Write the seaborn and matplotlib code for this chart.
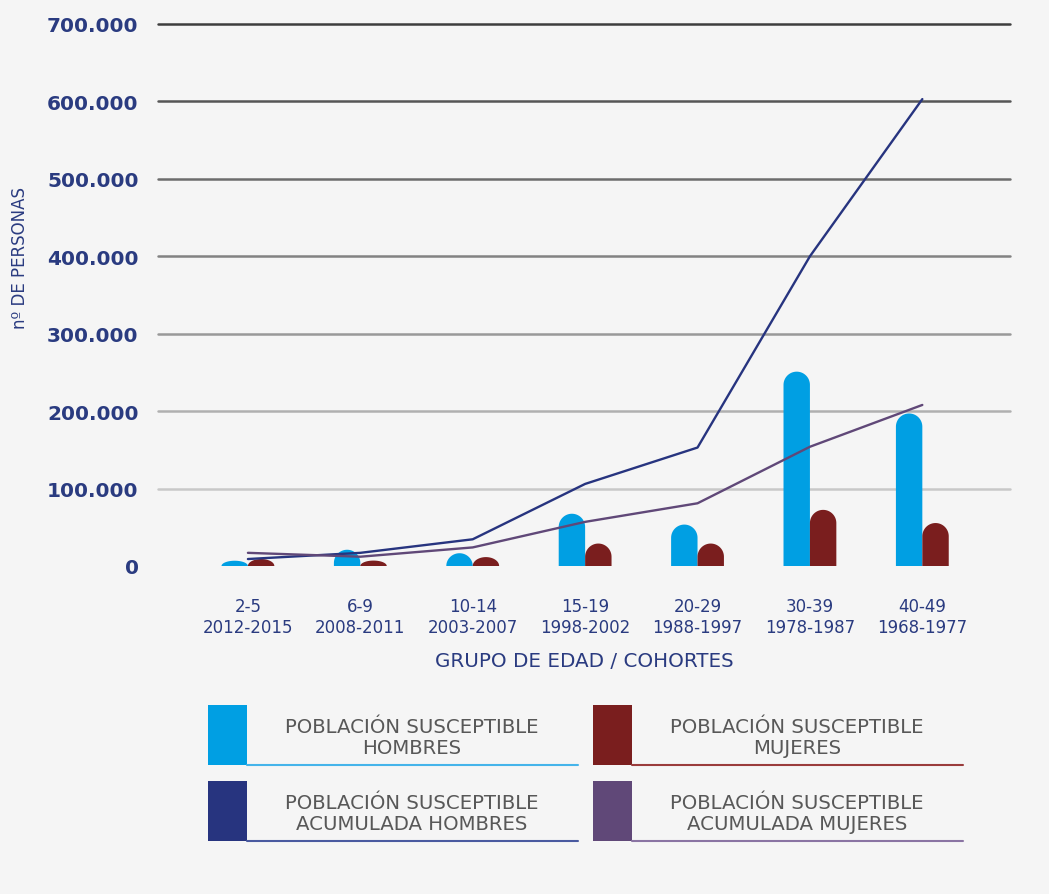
import numpy as np
import pandas as pd
import matplotlib
matplotlib.use("Agg")
import matplotlib.pyplot as plt
from matplotlib.path import Path
from matplotlib.patches import PathPatch, Rectangle
from matplotlib.ticker import FuncFormatter
import seaborn as sns

# --- data -------------------------------------------------------------
grupos = ["2-5\n2012-2015", "6-9\n2008-2011", "10-14\n2003-2007", "15-19\n1998-2002",
          "20-29\n1988-1997", "30-39\n1978-1987", "40-49\n1968-1977"]
susceptible_hombres = [6800, 21000, 16500, 67500, 53500, 251000, 197000]
susceptible_mujeres = [9000, 7000, 11500, 29000, 29000, 72500, 55500]
acumulada_hombres = [9000, 17000, 34500, 106000, 153000, 400000, 603000]
acumulada_mujeres = [17000, 12000, 24000, 57000, 81000, 154000, 208000]
y_ticks = [0, 100000, 200000, 300000, 400000, 500000, 600000, 700000]

serie_h = "POBLACIÓN SUSCEPTIBLE\nHOMBRES"
serie_m = "POBLACIÓN SUSCEPTIBLE\nMUJERES"
serie_ah = "POBLACIÓN SUSCEPTIBLE\nACUMULADA HOMBRES"
serie_am = "POBLACIÓN SUSCEPTIBLE\nACUMULADA MUJERES"

# --- styling ----------------------------------------------------------
BG = "#f5f5f5"
NAVY_TXT = "#2a3b80"
C_H = "#009fe3"
C_M = "#7a1e1e"
C_AH = "#27347f"
C_AM = "#604878"
grid_cols = ["#c8c8c8", "#b0b0b0", "#999999", "#828282", "#6c6c6c", "#565656", "#3e3e3e"]

sns.set_theme(style="white")
plt.rcParams["font.family"] = ["DejaVu Sans"]

fig = plt.figure(figsize=(10.49, 8.95), dpi=100, facecolor=BG)
ax = fig.add_axes([158 / 1049, 1 - 567 / 895, 852 / 1049, 542 / 895])
ax.set_facecolor(BG)

bars = pd.DataFrame({
    "grupo": grupos * 2,
    "valor": susceptible_hombres + susceptible_mujeres,
    "serie": [serie_h] * len(grupos) + [serie_m] * len(grupos),
})
sns.barplot(data=bars, x="grupo", y="valor", hue="serie", order=grupos,
            hue_order=[serie_h, serie_m], palette=[C_H, C_M], width=0.47,
            gap=0, saturation=1, legend=False, ax=ax, linewidth=0)

pos = np.arange(len(grupos))
sns.lineplot(x=pos, y=acumulada_hombres, color=C_AH, linewidth=1.7, ax=ax)
sns.lineplot(x=pos, y=acumulada_mujeres, color=C_AM, linewidth=1.7, ax=ax)

ax.set_xlim(-0.80, 6.78)
ax.set_ylim(0, 700000)
for s in ax.spines.values():
    s.set_visible(False)

# graded horizontal gridlines
for v, c in zip(y_ticks[1:], grid_cols):
    ax.axhline(v, color=c, linewidth=1.8, zorder=0.5, clip_on=False)

# bars with rounded tops
fig.canvas.draw()
inv = ax.transData.inverted()
for p in list(ax.patches):
    if not isinstance(p, Rectangle):
        continue
    x0, w, h = p.get_x(), p.get_width(), p.get_height()
    if h <= 0:
        continue
    (px0, py0), (px1, py1) = ax.transData.transform([(x0, 0), (x0 + w, 0)])
    r_px = (px1 - px0) / 2
    ry = inv.transform((0, py0 + r_px))[1] - inv.transform((0, py0))[1]
    ry = min(ry, h)
    th = np.linspace(np.pi, 0, 40)
    cx = x0 + w / 2
    arc = np.column_stack([cx + (w / 2) * np.cos(th), (h - ry) + ry * np.sin(th)])
    verts = np.vstack([[x0, 0], [x0, h - ry], arc, [x0 + w, 0], [x0, 0]])
    codes = [Path.MOVETO] + [Path.LINETO] * (len(verts) - 2) + [Path.CLOSEPOLY]
    ax.add_patch(PathPatch(Path(verts, codes), facecolor=p.get_facecolor(),
                           edgecolor="none", zorder=1.5))
    p.remove()
for ln in ax.lines:
    if ln.get_color() in (C_AH, C_AM):
        ln.set_zorder(3)

# axes text
ax.set_yticks(y_ticks)
ax.yaxis.set_major_formatter(FuncFormatter(lambda v, _: f"{int(v):,}".replace(",", ".")))
ax.tick_params(axis="y", length=0, pad=14, labelsize=14.5, labelcolor=NAVY_TXT)
for t in ax.get_yticklabels():
    t.set_fontweight("bold")
ax.tick_params(axis="x", length=0, pad=22, labelsize=12, labelcolor=NAVY_TXT)
for t in ax.get_xticklabels():
    t.set_linespacing(1.25)
ax.set_xlabel("GRUPO DE EDAD / COHORTES", fontsize=14.3, color=NAVY_TXT, labelpad=11)
ax.set_ylabel("")
fig.text(20 / 1049, 1 - 258 / 895, "nº DE PERSONAS", rotation=90, ha="center",
         va="center", fontsize=12, color=NAVY_TXT)

# legend blocks
legend_items = [
    (serie_h, C_H, "#45b4ea", 208, 706),
    (serie_m, C_M, "#9a3c3c", 593, 706),
    (serie_ah, C_AH, "#4a5aa0", 208, 782),
    (serie_am, C_AM, "#8a74a3", 593, 782),
]
W, H = 1049, 895
for label, col, ucol, lx, ly in legend_items:
    fig.patches.append(Rectangle((lx / W, 1 - (ly + 60) / H), 39 / W, 60 / H,
                                 transform=fig.transFigure, facecolor=col,
                                 edgecolor="none"))
    fig.lines.append(plt.Line2D([(lx + 39) / W, (lx + 370) / W],
                                [1 - (ly + 60) / H] * 2, transform=fig.transFigure,
                                color=ucol, linewidth=1.5))
    fig.text((lx + 204) / W, 1 - (ly + 32) / H, label, ha="center", va="center",
             fontsize=14.2, color="#585858", linespacing=1.1)

fig.savefig("out.png", dpi=100, facecolor=BG)
